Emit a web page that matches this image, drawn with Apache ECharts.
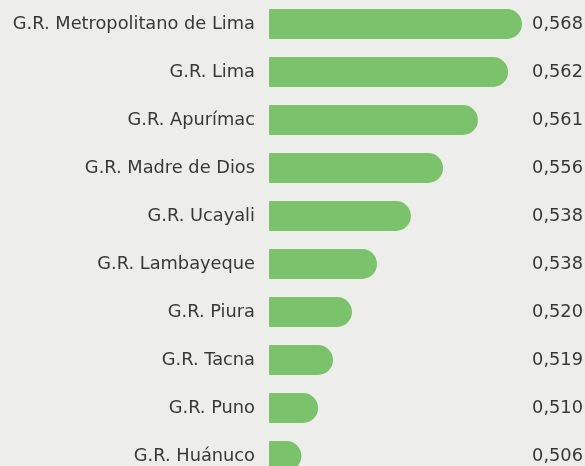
<!DOCTYPE html>
<html>
<head>
<meta charset="utf-8">
<script src="https://cdn.jsdelivr.net/npm/echarts@6/dist/echarts.min.js"></script>
<style>
html,body{margin:0;padding:0;background:#edeeeb;}
#chart{width:585px;height:466px;}
</style>
</head>
<body>
<div id="chart"></div>
<script>
const categories = ["G.R. Metropolitano de Lima","G.R. Lima","G.R. Apurímac","G.R. Madre de Dios","G.R. Ucayali","G.R. Lambayeque","G.R. Piura","G.R. Tacna","G.R. Puno","G.R. Huánuco"];
const valueLabels = ["0,568","0,562","0,561","0,556","0,538","0,538","0,520","0,519","0,510","0,506"];
// relative bar lengths (share of the longest bar)
const barScores = [1.000, 0.945, 0.826, 0.688, 0.561, 0.427, 0.328, 0.253, 0.194, 0.128];

const chart = echarts.init(document.getElementById('chart'));
const font = "'DejaVu Sans', sans-serif";
chart.setOption({
  backgroundColor: '#edeeeb',
  animation: false,
  grid: { left: 269, top: 0, width: 253, height: 480, outerBoundsMode: 'none', containLabel: false },
  xAxis: { type: 'value', min: 0, max: 1, show: false },
  yAxis: [
    { type: 'category', data: categories, inverse: true, position: 'left',
      axisLine: {show:false}, axisTick:{show:false}, splitLine:{show:false},
      axisLabel: { color:'#383838', fontSize:17.8, fontFamily:font, margin:14 } },
    { type: 'category', data: valueLabels, inverse: true, position: 'right',
      axisLine: {show:false}, axisTick:{show:false}, splitLine:{show:false},
      axisLabel: { color:'#383838', fontSize:17.8, fontFamily:font, margin:61, align:'right' } }
  ],
  series: [{
    type: 'bar', data: barScores, yAxisIndex: 0, barWidth: 30,
    itemStyle: { color: '#7ac36a', borderRadius: [0,15,15,0] },
    silent: true
  }]
});
</script>
</body>
</html>
